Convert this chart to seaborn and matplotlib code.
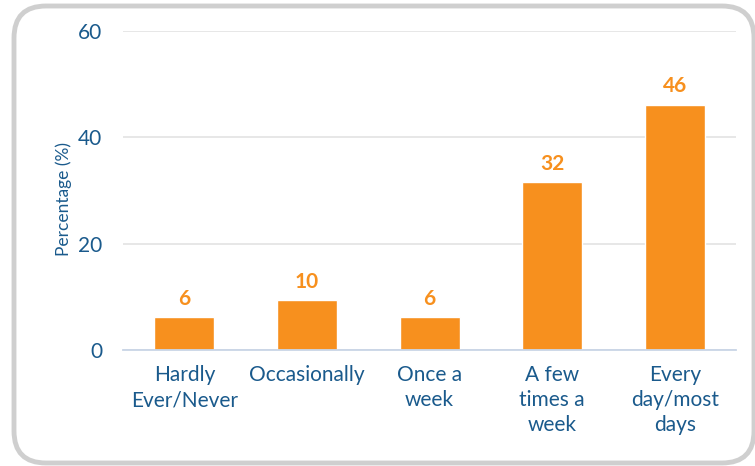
import matplotlib
matplotlib.use("Agg")
import matplotlib.pyplot as plt
import seaborn as sns
import pandas as pd
from matplotlib.patches import FancyBboxPatch

categories = ["Hardly\nEver/Never", "Occasionally", "Once a\nweek", "A few\ntimes a\nweek", "Every\nday/most\ndays"]
values = [6.2, 9.4, 6.2, 31.6, 46.1]
value_labels = ["6", "10", "6", "32", "46"]
y_ticks = [0, 20, 40, 60]

ORANGE = "#F7901E"
BLUE = "#1A5A8C"

sns.set_theme(style="white")
plt.rcParams["font.family"] = ["Lato", "DejaVu Sans"]

fig = plt.figure(figsize=(7.55, 4.66), dpi=100)
ax = fig.add_axes([0.163, 0.249, 0.812, 0.685])

df = pd.DataFrame({"cat": categories, "val": values})
sns.barplot(data=df, x="cat", y="val", color=ORANGE, width=0.49, ax=ax, saturation=1)

ax.bar_label(ax.containers[0], labels=value_labels, padding=6, color=ORANGE,
             fontsize=15, fontweight="bold")
for t in ax.texts:
    t.set_fontfamily(["Lato", "DejaVu Sans"])

ax.set_ylim(0, 60)
ax.set_xlim(-0.5, len(categories) - 0.5)
ax.set_yticks(y_ticks)
ax.yaxis.grid(True, color="#E3E3E3", linewidth=1.2)
ax.set_axisbelow(True)
for s in ["top", "right", "left"]:
    ax.spines[s].set_visible(False)
ax.spines["bottom"].set_color("#C9D5E6")
ax.spines["bottom"].set_linewidth(1.3)

ax.tick_params(axis="y", length=0, pad=15, labelsize=15, labelcolor=BLUE)
ax.tick_params(axis="x", which="major", length=0, pad=11, labelsize=15, labelcolor=BLUE)
ax.set_xticks([i - 0.5 for i in range(len(categories) + 1)], minor=True)
ax.tick_params(axis="x", which="minor", length=13, width=1.3, color="#C9D5E6", direction="out")
for lbl in ax.get_xticklabels():
    lbl.set_linespacing(1.32)

ax.set_xlabel("")
ax.set_ylabel("Percentage (%)", fontsize=12.5, color=BLUE)
ax.yaxis.set_label_coords(-0.084, 0.472)

border = FancyBboxPatch((0.14, 0.03), 7.40, 4.57,
                        boxstyle="round,pad=0,rounding_size=0.32",
                        transform=fig.dpi_scale_trans, facecolor="none",
                        edgecolor="#CFCFCF", linewidth=3.5, zorder=-1)
fig.patches.append(border)

fig.savefig("out.png", dpi=100)
